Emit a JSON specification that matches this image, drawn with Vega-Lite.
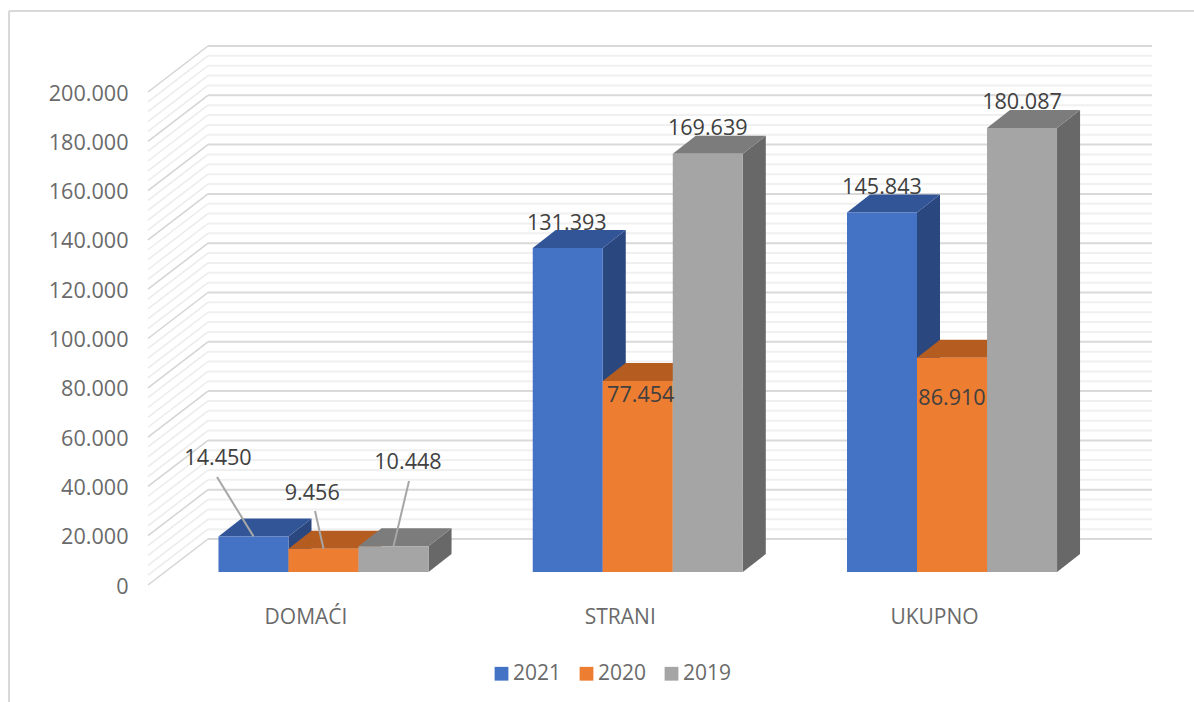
{
"$schema":"https://vega.github.io/schema/vega-lite/v6.json",
"width":1004,"height":493,
"autosize":{"type":"none"},
"padding":{"left":148,"top":92,"right":42,"bottom":117},
"background":"white",
"config":{"view":{"stroke":null},"font":"Open Sans","axis":{"title":null,"grid":false,"domain":false,"ticks":false}},
"datasets":{
"grid":[{"v":0},{"v":4000},{"v":8000},{"v":12000},{"v":16000},{"v":20000},{"v":24000},{"v":28000},{"v":32000},{"v":36000},{"v":40000},{"v":44000},{"v":48000},{"v":52000},{"v":56000},{"v":60000},{"v":64000},{"v":68000},{"v":72000},{"v":76000},{"v":80000},{"v":84000},{"v":88000},{"v":92000},{"v":96000},{"v":100000},{"v":104000},{"v":108000},{"v":112000},{"v":116000},{"v":120000},{"v":124000},{"v":128000},{"v":132000},{"v":136000},{"v":140000},{"v":144000},{"v":148000},{"v":152000},{"v":156000},{"v":160000},{"v":164000},{"v":168000},{"v":172000},{"v":176000},{"v":180000},{"v":184000},{"v":188000},{"v":192000},{"v":196000},{"v":200000}],
"bars":[
{"category":"DOMAĆI","year":"2021","value":14450},
{"category":"DOMAĆI","year":"2020","value":9456},
{"category":"DOMAĆI","year":"2019","value":10448},
{"category":"STRANI","year":"2021","value":131393},
{"category":"STRANI","year":"2020","value":77454},
{"category":"STRANI","year":"2019","value":169639},
{"category":"UKUPNO","year":"2021","value":145843},
{"category":"UKUPNO","year":"2020","value":86910},
{"category":"UKUPNO","year":"2019","value":180087}]
},
"data":{"name":"bars"},
"transform":[
{"calculate":"indexof(['DOMAĆI','STRANI','UKUPNO'],datum.category)","as":"ci"},
{"calculate":"indexof(['2021','2020','2019'],datum.year)","as":"yi"},
{"calculate":"datum.ci-0.3342+datum.yi*0.2228","as":"xl"},
{"calculate":"datum.xl+0.2228","as":"xr"},
{"calculate":"datum.xl+0.1114","as":"xc"},
{"calculate":"datum.value+5274","as":"top"},
{"calculate":"5274","as":"base"}
],
"layer":[
{"data":{"name":"grid"},"transform":[{"calculate":"-0.5585","as":"a"},{"calculate":"-0.3676","as":"b"},{"calculate":"datum.v+18661","as":"w"}],
 "mark":{"type":"rule","strokeWidth":1.5},
 "encoding":{
  "x":{"field":"a","type":"quantitative","scale":{"domain":[-0.5585,2.6364],"nice":false,"zero":false},
   "axis":{"values":[0,1,2],"labelExpr":"['DOMAĆI','STRANI','UKUPNO'][datum.value]","labelOffset":-18,"labelPadding":21,"labelFontSize":21,"labelColor":"#6a6a6a","labelFont":"Open Sans"}},
  "x2":{"field":"b"},
  "y":{"field":"v","type":"quantitative","scale":{"domain":[0,200000],"nice":false,"zero":false},
   "axis":{"values":[0,20000,40000,60000,80000,100000,120000,140000,160000,180000,200000],"labelExpr":"replace(format(datum.value,','),',','.')","labelPadding":20,"labelOffset":2,"labelFontSize":21.6,"labelColor":"#6a6a6a","labelFont":"Open Sans"}},
  "y2":{"field":"w"},
  "color":{"condition":{"test":"datum.v % 20000 === 0","value":"#d4d4d4"},"value":"#ececec"}
 }},
{"data":{"name":"grid"},"transform":[{"calculate":"-0.3676","as":"a"},{"calculate":"2.6364","as":"b"},{"calculate":"datum.v+18661","as":"w"}],
 "mark":{"type":"rule","strokeWidth":2},
 "encoding":{
  "x":{"field":"a","type":"quantitative"},"x2":{"field":"b"},
  "y":{"field":"w","type":"quantitative"},
  "color":{"condition":{"test":"datum.v % 20000 === 0","value":"#d9d9d9"},"value":"#f0f0f0"}
 }},
{"data":{"values":[{"xa":-1.0008,"xb":-1.0008,"ya":232860,"yb":-47465},{"xa":-1.0008,"xb":2.77,"ya":232860,"yb":232860}]},
 "mark":{"type":"rule","strokeWidth":2,"color":"#d9d9d9"},
 "encoding":{"x":{"field":"xa","type":"quantitative"},"x2":{"field":"xb"},"y":{"field":"ya","type":"quantitative"},"y2":{"field":"yb"}}},
{"transform":[{"calculate":"[0,1]","as":"t"},{"flatten":["t"]},
  {"calculate":"datum.xr+datum.t*0.0732","as":"sx"},
  {"calculate":"datum.top+datum.t*7302","as":"sy"},
  {"calculate":"datum.base+datum.t*7302","as":"sy2"}],
 "mark":{"type":"area","orient":"vertical"},
 "encoding":{
  "x":{"field":"sx","type":"quantitative"},
  "y":{"field":"sy","type":"quantitative"},"y2":{"field":"sy2"},
  "detail":{"field":"xl","type":"nominal"},
  "fill":{"field":"year","type":"nominal","legend":null,"scale":{"domain":["2021","2020","2019"],"range":["#2a4780","#9e541f","#686868"]}}
 }},
{"transform":[{"calculate":"[0,1]","as":"t"},{"flatten":["t"]},
  {"calculate":"datum.xl+datum.t*0.0732","as":"tx"},
  {"calculate":"datum.xr+datum.t*0.0732","as":"tx2"},
  {"calculate":"datum.top+datum.t*7302","as":"ty"}],
 "mark":{"type":"area","orient":"horizontal"},
 "encoding":{
  "y":{"field":"ty","type":"quantitative"},
  "x":{"field":"tx","type":"quantitative"},"x2":{"field":"tx2"},
  "detail":{"field":"xl","type":"nominal"},
  "fill":{"field":"year","type":"nominal","legend":null,"scale":{"domain":["2021","2020","2019"],"range":["#325598","#b55d20","#7c7c7c"]}}
 }},
{"mark":{"type":"rect"},
 "encoding":{
  "x":{"field":"xl","type":"quantitative"},"x2":{"field":"xr"},
  "y":{"field":"top","type":"quantitative"},"y2":{"field":"base"},
  "fill":{"field":"year","type":"nominal","sort":null,"scale":{"domain":["2021","2020","2019"],"range":["#4472c4","#ed7d31","#a5a5a5"]},
   "legend":{"orient":"none","legendX":343,"legendY":571,"direction":"horizontal","title":null,"symbolType":"square","symbolSize":190,"symbolStrokeWidth":0,"labelFontSize":21,"labelColor":"#6a6a6a","labelFont":"Open Sans","labelOffset":1,"columnPadding":14}}
 }},
{"transform":[{"filter":"datum.category==='DOMAĆI'"},
  {"calculate":"datum.xc+[-0.1161,-0.027,0.0493][datum.yi]","as":"lx"},
  {"calculate":"datum.top+[24097,15294,26450][datum.yi]","as":"ly"}],
 "mark":{"type":"rule","strokeWidth":2,"color":"#a6a6a6"},
 "encoding":{"x":{"field":"lx","type":"quantitative"},"x2":{"field":"xc"},"y":{"field":"ly","type":"quantitative"},"y2":{"field":"top"}}},
{"transform":[
  {"calculate":"datum.xc+[[-0.113,-0.036,0.046],[-0.003,0.0095,0],[0,0,0]][datum.ci][datum.yi]","as":"lx"},
  {"calculate":"datum.top+[[31440,22190,33671],[9736,-6085,10142],[9939,-16633,10142]][datum.ci][datum.yi]","as":"ly"},
  {"calculate":"replace(format(datum.value,','),',','.')","as":"label"}],
 "mark":{"type":"text","fontSize":21.6,"color":"#404040","font":"Open Sans","baseline":"middle","align":"center"},
 "encoding":{"x":{"field":"lx","type":"quantitative"},"y":{"field":"ly","type":"quantitative"},"text":{"field":"label","type":"nominal"}}}
],
"resolve":{"scale":{"fill":"independent"}}
}
